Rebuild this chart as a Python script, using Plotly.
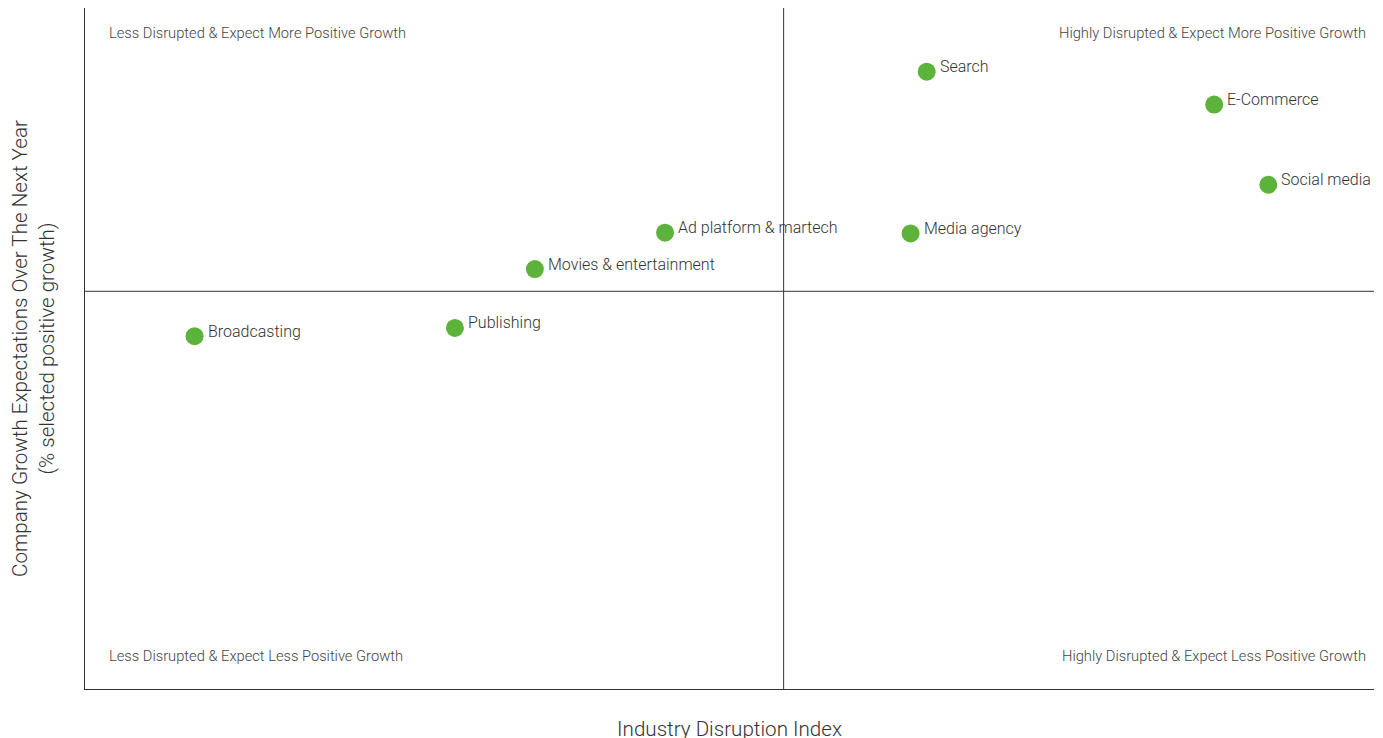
import plotly.graph_objects as go

# industries and their position (disruption index, % expecting positive growth)
industries = ["Search", "E-Commerce", "Social media", "Media agency",
              "Ad platform & martech", "Movies & entertainment", "Publishing", "Broadcasting"]
disruption = [65.3, 87.6, 91.8, 64.05, 45.0, 34.9, 28.7, 8.5]
growth = [90.1, 85.3, 73.6, 66.5, 66.6, 61.3, 52.7, 51.5]

# quadrant split
x_split = 54.2
y_split = 58.05

quadrant_labels = ["Less Disrupted & Expect More Positive Growth",
                   "Highly Disrupted & Expect More Positive Growth",
                   "Less Disrupted & Expect Less Positive Growth",
                   "Highly Disrupted & Expect Less Positive Growth"]

font_family = "Roboto"
green = "#5cb23a"

fig = go.Figure()
fig.add_trace(go.Scatter(
    x=disruption,
    y=growth,
    mode="markers",
    marker=dict(size=18, color=green),
    text=industries,
    hovertemplate="<b>%{text}</b><br>Disruption: %{x}<br>Growth: %{y}<extra></extra>",
    showlegend=False
))

# point labels
for name, xv, yv in zip(industries, disruption, growth):
    fig.add_annotation(x=xv, y=yv, text=name, showarrow=False,
                       xanchor="left", yanchor="middle", xshift=11, yshift=5,
                       font=dict(family=font_family, size=16, color="#333333", weight=300))

# quadrant corner labels
corners = [(0, 1, "left", "top", 22, -14),
           (1, 1, "right", "top", -6, -14),
           (0, 0, "left", "bottom", 22, 22),
           (1, 0, "right", "bottom", -6, 22)]
for label, (cx, cy, xa, ya, xs, ys) in zip(quadrant_labels, corners):
    fig.add_annotation(x=cx, y=cy, xref="x domain", yref="y domain", text=label,
                       showarrow=False, xanchor=xa, yanchor=ya, xshift=xs, yshift=ys,
                       font=dict(family=font_family, size=14.7, color="#444444", weight=300))

# quadrant divider lines
fig.add_shape(type="line", x0=x_split, x1=x_split, y0=0, y1=1, xref="x", yref="y domain",
              line=dict(color="#333333", width=1))
fig.add_shape(type="line", x0=0, x1=1, y0=y_split, y1=y_split, xref="x domain", yref="y",
              line=dict(color="#333333", width=1))

fig.update_layout(
    width=1383, height=738,
    margin=dict(l=77, r=17, t=0, b=57),
    plot_bgcolor="white",
    paper_bgcolor="white",
    font=dict(family=font_family, color="#333333"),
    xaxis=dict(range=[0, 100], showgrid=False, zeroline=False, showticklabels=False,
               ticks="", showline=True, linecolor="#333333", linewidth=1,
               title=dict(text="Industry Disruption Index", standoff=32,
                          font=dict(size=20.6, color="#333333", weight=300))),
    yaxis=dict(range=[0, 99.4], showgrid=False, zeroline=False, showticklabels=False,
               ticks="", showline=True, linecolor="#333333", linewidth=1,
               title=dict(text="Company Growth Expectations Over The Next Year<br>(% selected positive growth)",
                          standoff=33,
                          font=dict(size=20.6, color="#333333", weight=300))),
)

fig.write_html("out.html")
